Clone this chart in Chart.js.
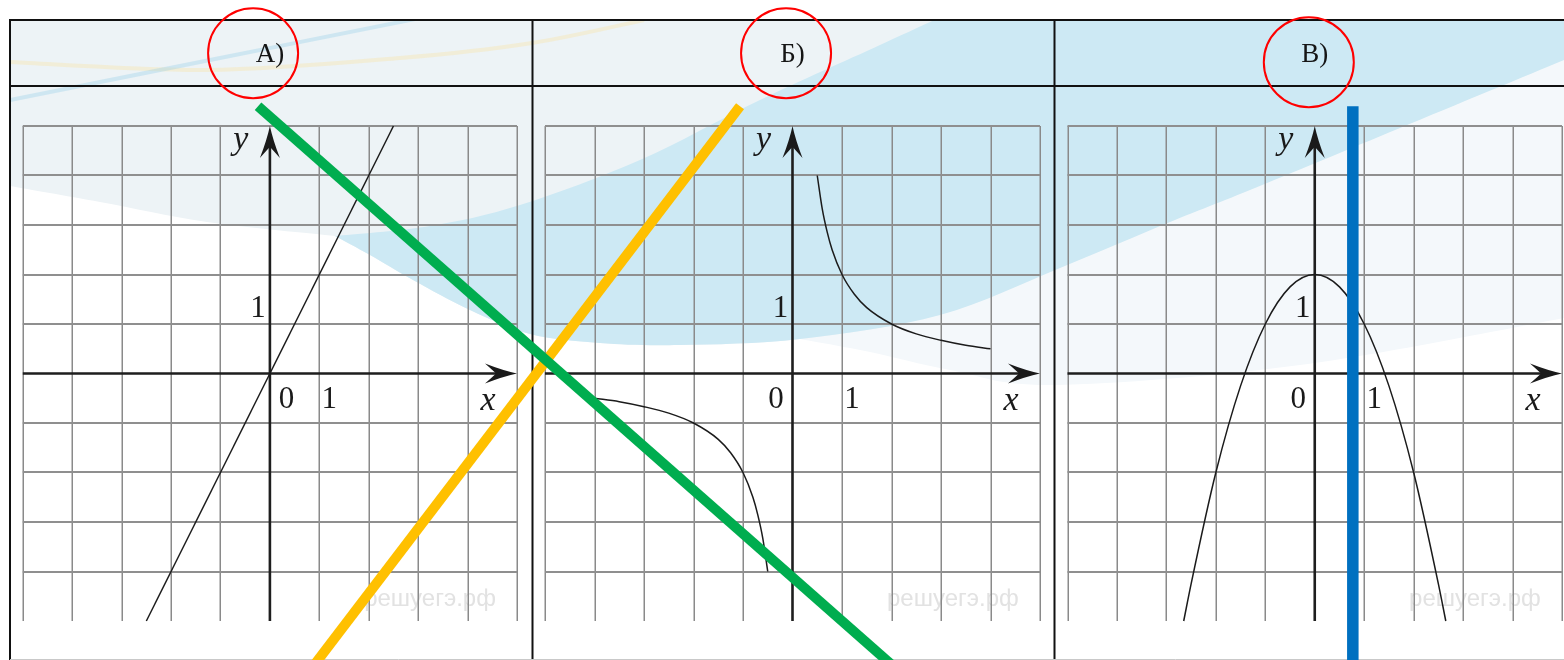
<!DOCTYPE html>
<html lang="ru">
<head>
<meta charset="utf-8">
<title>Графики функций А, Б, В</title>
<script src="https://cdn.jsdelivr.net/npm/chart.js@4.4.1/dist/chart.umd.min.js"></script>
<style>
  html, body { margin: 0; padding: 0; background: #ffffff; }
  #board { display: block; }
</style>
</head>
<body>
<canvas id="board" width="1564" height="660"></canvas>
<script>
// ---------- data ----------
const panelTitles = ['А)', 'Б)', 'В)'];
const tickZero = '0';
const tickOne = '1';
const axisNameX = 'x';
const axisNameY = 'y';
const watermark = 'решуегэ.рф';

// А) straight line through the origin
const lineAX = [-2.5, 2.5];
const lineAY = [-5, 5];

// Б) hyperbola, right and left branches
const hypRightX = [0.5, 0.6, 0.7, 0.8, 1, 1.25, 1.5, 2, 2.5, 3, 3.5, 4];
const hypRightY = [4, 3.33, 2.86, 2.5, 2, 1.6, 1.33, 1, 0.8, 0.67, 0.57, 0.5];
const hypLeftX = [-4, -3.5, -3, -2.5, -2, -1.5, -1.25, -1, -0.8, -0.7, -0.6, -0.5];
const hypLeftY = [-0.5, -0.57, -0.67, -0.8, -1, -1.33, -1.6, -2, -2.5, -2.86, -3.33, -4];

// В) parabola
const parabX = [-2.65, -2.5, -2, -1.5, -1, -0.5, 0, 0.5, 1, 1.5, 2, 2.5, 2.65];
const parabY = [-5, -4.25, -2, -0.25, 1, 1.75, 2, 1.75, 1, -0.25, -2, -4.25, -5];

// answer marks: rings round the captions (one per panel, in that panel's units)
const ringX = [-0.34, -0.13, -0.12];
const ringY = [6.47, 6.47, 6.29];
// connecting strokes: green in panel А units, yellow in panel Б units, blue in panel В units
const greenX = [-0.24, 12.94];
const greenY = [5.40, -6.2];
const yellowX = [-1.06, -9.90];
const yellowY = [5.40, -6.2];
const blueX = [0.77, 0.77];
const blueY = [5.40, -6.2];

// ---------- layout ----------
const W = 1564, H = 660;
const FRAME = { left: 10, top: 20, headerBottom: 86, bottom: 659, dividers: [532.5, 1054.5] };
const GRID = { top: 126, bottom: 621 };           // y = 5 ... y = -5
const PANELS = [
  { key: 'A', left: 22.8, right: 517, zeroSide: 1 },
  { key: 'B', left: 545, right: 1040, zeroSide: -1 },
  { key: 'C', left: 1067.5, right: 1562, zeroSide: -1 }
];

const SERIF = '"Liberation Serif", "DejaVu Serif", serif';
const SANS = '"Liberation Sans", "DejaVu Sans", sans-serif';

// every panel gets its own pair of hidden linear scales spanning the whole canvas
const scales = {};
const yUnit = (GRID.bottom - GRID.top) / 10;
PANELS.forEach(p => {
  const u = (p.right - p.left) / 10;
  scales['x' + p.key] = {
    type: 'linear', axis: 'x', position: 'bottom', display: false, bounds: 'data',
    min: -5 - p.left / u, max: 5 + (W - p.right) / u, ticks: { stepSize: 1 }
  };
  scales['y' + p.key] = {
    type: 'linear', axis: 'y', position: 'left', display: false, bounds: 'data',
    min: -5 - (H - GRID.bottom) / yUnit, max: 5 + GRID.top / yUnit, ticks: { stepSize: 1 }
  };
});

const pts = (xs, ys) => xs.map((x, i) => ({ x: x, y: ys[i] }));

const curve = {
  showLine: true, borderColor: '#1b1b1b', borderWidth: 1.5, pointRadius: 0,
  fill: false, cubicInterpolationMode: 'monotone', order: 5
};
const stroke = (color, width) => ({
  showLine: true, borderColor: color, borderWidth: width, pointRadius: 0,
  fill: false, borderCapStyle: 'butt', order: 1
});
const ring = i => ({
  data: [{ x: ringX[i], y: ringY[i] }],
  xAxisID: 'x' + PANELS[i].key, yAxisID: 'y' + PANELS[i].key,
  showLine: false, pointRadius: 45, pointStyle: 'circle',
  pointBackgroundColor: 'rgba(0,0,0,0)', pointBorderColor: '#ff0000', pointBorderWidth: 2,
  order: 0
});

const datasets = [
  Object.assign({ label: 'А', data: pts(lineAX, lineAY), xAxisID: 'xA', yAxisID: 'yA' }, curve, { cubicInterpolationMode: 'default' }),
  Object.assign({ label: 'Б+', data: pts(hypRightX, hypRightY), xAxisID: 'xB', yAxisID: 'yB' }, curve),
  Object.assign({ label: 'Б-', data: pts(hypLeftX, hypLeftY), xAxisID: 'xB', yAxisID: 'yB' }, curve),
  Object.assign({ label: 'В', data: pts(parabX, parabY), xAxisID: 'xC', yAxisID: 'yC' }, curve),
  Object.assign({ label: 'green', data: pts(greenX, greenY), xAxisID: 'xA', yAxisID: 'yA' }, stroke('#00ad4f', 10)),
  Object.assign({ label: 'yellow', data: pts(yellowX, yellowY), xAxisID: 'xB', yAxisID: 'yB' }, stroke('#ffc000', 10)),
  Object.assign({ label: 'blue', data: pts(blueX, blueY), xAxisID: 'xC', yAxisID: 'yC' }, stroke('#0070c0', 11.5)),
  ring(0), ring(1), ring(2)
];

// ---------- drawing helpers ----------
function smoothThrough(ctx, p, start) {
  if (start) ctx.moveTo(p[0][0], p[0][1]); else ctx.lineTo(p[0][0], p[0][1]);
  for (let i = 0; i < p.length - 1; i++) {
    const p0 = p[i - 1] || p[i], p1 = p[i], p2 = p[i + 1], p3 = p[i + 2] || p2;
    ctx.bezierCurveTo(
      p1[0] + (p2[0] - p0[0]) / 6, p1[1] + (p2[1] - p0[1]) / 6,
      p2[0] - (p3[0] - p1[0]) / 6, p2[1] - (p3[1] - p1[1]) / 6,
      p2[0], p2[1]);
  }
}

// background swoosh of the worksheet
const bandUpper = [[335, 236], [430, 226], [520, 205], [640, 160], [760, 100], [880, 45], [960, 8], [1000, -12]];
const bandLower = [[1600, 45], [1564, 60], [1400, 128], [1250, 190], [1170, 222], [1060, 268], [940, 315],
                   [800, 339], [680, 345], [600, 343], [530, 334], [470, 310], [413, 280], [370, 255], [335, 236]];
const tintLeftEdge = [[335, 236], [207, 222], [100, 202], [10, 186]];
const paleLower = [[800, 339], [870, 352], [950, 370], [1055, 385], [1300, 365], [1564, 318], [1600, 310]];

const decorPlugin = {
  id: 'sheet',
  beforeDraw(chart) {
    const ctx = chart.ctx;
    ctx.save();
    ctx.fillStyle = '#ffffff';
    ctx.fillRect(0, 0, W, H);

    ctx.save();
    ctx.beginPath();
    ctx.rect(FRAME.left, FRAME.top, W - FRAME.left, H - FRAME.top);
    ctx.clip();

    // pale area under the swoosh (right side)
    ctx.beginPath();
    smoothThrough(ctx, bandLower.slice(0, 8), true);
    smoothThrough(ctx, paleLower, false);
    ctx.closePath();
    ctx.fillStyle = '#f4f8fb';
    ctx.fill();

    // grey-blue tint of the upper part
    ctx.beginPath();
    ctx.moveTo(FRAME.left, FRAME.top - 5);
    ctx.lineTo(1600, FRAME.top - 5);
    smoothThrough(ctx, bandLower, false);
    smoothThrough(ctx, tintLeftEdge, false);
    ctx.closePath();
    ctx.fillStyle = '#edf3f6';
    ctx.fill();

    // light blue swoosh
    ctx.beginPath();
    smoothThrough(ctx, bandUpper, true);
    ctx.lineTo(1600, -12);
    smoothThrough(ctx, bandLower, false);
    ctx.closePath();
    ctx.fillStyle = '#cde9f4';
    ctx.fill();

    // faint thin arcs in the first header cell
    ctx.lineWidth = 4;
    ctx.strokeStyle = 'rgba(250, 226, 160, 0.35)';
    ctx.beginPath();
    smoothThrough(ctx, [[10, 62], [207, 70], [400, 58], [532, 43], [644, 20]], true);
    ctx.stroke();
    ctx.strokeStyle = 'rgba(150, 205, 232, 0.35)';
    ctx.beginPath();
    smoothThrough(ctx, [[10, 100], [200, 62], [420, 18]], true);
    ctx.stroke();
    ctx.restore();

    // table frame
    ctx.strokeStyle = '#111111';
    ctx.lineWidth = 2;
    ctx.beginPath();
    ctx.moveTo(FRAME.left, FRAME.top); ctx.lineTo(W, FRAME.top);
    ctx.moveTo(FRAME.left, FRAME.headerBottom); ctx.lineTo(W, FRAME.headerBottom);
    ctx.moveTo(FRAME.left, FRAME.top - 1); ctx.lineTo(FRAME.left, H);
    FRAME.dividers.forEach(x => { ctx.moveTo(x, FRAME.top); ctx.lineTo(x, H); });
    ctx.stroke();
    ctx.strokeStyle = '#c9c9c9';
    ctx.lineWidth = 1;
    ctx.beginPath();
    ctx.moveTo(FRAME.left, FRAME.bottom + 0.5); ctx.lineTo(W, FRAME.bottom + 0.5);
    ctx.stroke();

    // captions
    ctx.fillStyle = '#151515';
    ctx.font = '27px ' + SERIF;
    ctx.textAlign = 'center';
    ctx.textBaseline = 'alphabetic';
    PANELS.forEach((p, i) => {
      const x0 = chart.scales['x' + p.key].getPixelForValue(0);
      ctx.fillText(panelTitles[i], x0, 62);
    });
    ctx.restore();
  }
};

function arrowHead(ctx, tipX, tipY, dir) {
  // dir: 'right' or 'up'
  const L = 32, Hw = 10, N = 21;
  ctx.beginPath();
  if (dir === 'right') {
    ctx.moveTo(tipX, tipY);
    ctx.quadraticCurveTo(tipX - 14, tipY - 3, tipX - L, tipY - Hw);
    ctx.quadraticCurveTo(tipX - N - 3, tipY - 3, tipX - N, tipY);
    ctx.quadraticCurveTo(tipX - N - 3, tipY + 3, tipX - L, tipY + Hw);
    ctx.quadraticCurveTo(tipX - 14, tipY + 3, tipX, tipY);
  } else {
    ctx.moveTo(tipX, tipY);
    ctx.quadraticCurveTo(tipX - 3, tipY + 14, tipX - Hw, tipY + L);
    ctx.quadraticCurveTo(tipX - 3, tipY + N + 3, tipX, tipY + N);
    ctx.quadraticCurveTo(tipX + 3, tipY + N + 3, tipX + Hw, tipY + L);
    ctx.quadraticCurveTo(tipX + 3, tipY + 14, tipX, tipY);
  }
  ctx.closePath();
  ctx.fill();
}

const panelPlugin = {
  id: 'panels',
  beforeDatasetsDraw(chart) {
    const ctx = chart.ctx;
    ctx.save();
    PANELS.forEach(p => {
      const xs = chart.scales['x' + p.key], ys = chart.scales['y' + p.key];
      const X = v => xs.getPixelForValue(v), Y = v => ys.getPixelForValue(v);
      const intTicks = s => {
        let v = (s.ticks || []).map(t => t.value)
          .filter(t => Math.abs(t - Math.round(t)) < 1e-9 && t >= -5 && t <= 5)
          .map(t => Math.round(t));
        if (v.length < 11) { v = []; for (let k = -5; k <= 5; k++) v.push(k); }
        return v;
      };
      const xv = intTicks(xs), yv = intTicks(ys);

      // watermark
      ctx.fillStyle = '#e2e2e2';
      ctx.font = '24px ' + SANS;
      ctx.textAlign = 'center';
      ctx.textBaseline = 'middle';
      ctx.fillText(watermark, X(3.24), Y(-4.52) + 2);

      // grid
      ctx.strokeStyle = '#8a8a8a';
      ctx.lineWidth = 1.5;
      ctx.beginPath();
      xv.forEach(v => { if (v !== 0) { const x = Math.round(X(v)) + 0.25; ctx.moveTo(x, Y(5)); ctx.lineTo(x, Y(-5)); } });
      ctx.stroke();
      ctx.lineWidth = 2;
      ctx.strokeStyle = '#8f8f8f';
      ctx.beginPath();
      yv.forEach(v => { if (v !== 0 && v > -5) { const y = Math.round(Y(v)); ctx.moveTo(X(-5), y); ctx.lineTo(X(5), y); } });
      ctx.stroke();

      // axes with arrows
      ctx.strokeStyle = '#1e1e1e';
      ctx.fillStyle = '#1a1a1a';
      ctx.lineWidth = 2.6;
      ctx.beginPath();
      ctx.moveTo(X(-5), Y(0)); ctx.lineTo(X(5) - 20, Y(0));
      ctx.moveTo(X(0), Y(-5)); ctx.lineTo(X(0), Y(5) + 20);
      ctx.stroke();
      arrowHead(ctx, X(5), Y(0), 'right');
      arrowHead(ctx, X(0), Y(5), 'up');

      // axis names
      ctx.fillStyle = '#1a1a1a';
      ctx.textAlign = 'center';
      ctx.textBaseline = 'alphabetic';
      ctx.font = 'italic 34px ' + SERIF;
      ctx.fillText(axisNameY, X(0) - 29, Y(5) + 23);
      ctx.fillText(axisNameX, X(5) - 29, Y(0) + 36);

      // unit marks
      ctx.font = '31px ' + SERIF;
      ctx.fillText(tickZero, X(0) + 16.5 * p.zeroSide, Y(0) + 34);
      ctx.fillText(tickOne, X(1) + 10, Y(0) + 34);
      ctx.fillText(tickOne, X(0) - 12, Y(1) - 7);
    });
    ctx.restore();
  }
};

new Chart(document.getElementById('board'), {
  type: 'scatter',
  data: { datasets: datasets },
  options: {
    responsive: false,
    animation: false,
    devicePixelRatio: 1,
    events: [],
    layout: { padding: 0, autoPadding: false },
    scales: scales,
    plugins: { legend: { display: false }, tooltip: { enabled: false }, title: { display: false } }
  },
  plugins: [decorPlugin, panelPlugin]
});
</script>
</body>
</html>
